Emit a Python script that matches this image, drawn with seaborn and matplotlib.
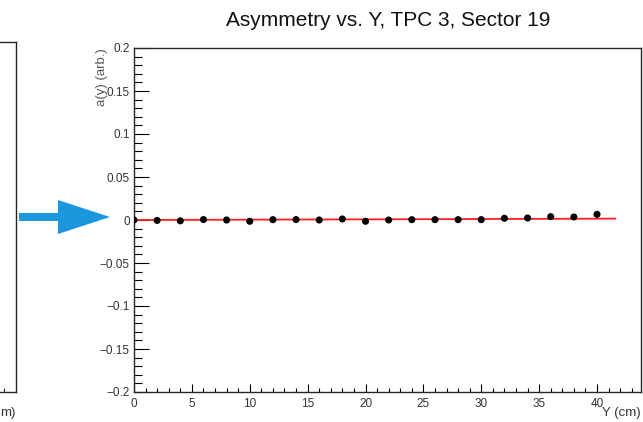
import matplotlib
matplotlib.use('Agg')
import matplotlib.pyplot as plt
import seaborn as sns
from matplotlib.patches import Polygon
from matplotlib.ticker import MultipleLocator

# Data
y_pos = [0, 2, 4, 6, 8, 10, 12, 14, 16, 18, 20,
         22, 24, 26, 28, 30, 32, 34, 36, 38, 40]
asym = [0.0, -0.0005, -0.001, 0.0005, 0.0, -0.0015, 0.0004, 0.0005, 0.0,
        0.0012, -0.0015, 0.0, 0.0004, 0.0004, 0.0004, 0.0004, 0.002,
        0.0023, 0.0039, 0.0035, 0.0066]
fit_x = [0.0, 41.6]
fit_y = [0.0, 0.0016]

y_ticks = [-0.2, -0.15, -0.1, -0.05, 0, 0.05, 0.1, 0.15, 0.2]
y_tick_labels = ['\u22120.2', '\u22120.15', '\u22120.1', '\u22120.05', '0',
                 '0.05', '0.1', '0.15', '0.2']

# Graphic style config
sns.set_style('ticks')
plt.rcParams['font.family'] = ['Liberation Sans', 'DejaVu Sans']

W, H = 643, 422
fig = plt.figure(figsize=(W / 100, H / 100), dpi=100)

# left neighbour pad (cut off at the figure edge)
ax0 = fig.add_axes([-0.3, 1 - 392 / H, 0.3 + 16 / W, (392 - 42) / H])
ax0.set_xlim(0, 1)
ax0.set_ylim(0, 1)
ax0.set_xticks([])
ax0.set_yticks([])
ax0.set_xticks([(0.3 + 4 / W) / (0.3 + 16 / W)], minor=True)
ax0.tick_params(axis='x', which='minor', direction='in', length=3,
                width=0.8, labelbottom=False)
for s in ax0.spines.values():
    s.set_linewidth(1.0)
fig.text(0.5 / W, 1 - 413 / H, 'm)', ha='left', va='center',
         fontsize=9.5, color='#333333')

# main pad
ax = fig.add_axes([134 / W, 1 - 392 / H, (641 - 134) / W, (392 - 48) / H])
sns.lineplot(x=fit_x, y=fit_y, color='#ff2020', lw=1.3, ax=ax, zorder=2)
sns.scatterplot(x=y_pos, y=asym, color='black', s=26, edgecolor='none',
                ax=ax, zorder=3)

ax.set_xlim(0, 43.8)
ax.set_ylim(-0.2, 0.2)
ax.set_yticks(y_ticks)
ax.set_yticklabels(y_tick_labels)
ax.xaxis.set_major_locator(MultipleLocator(5))
ax.xaxis.set_minor_locator(MultipleLocator(1))
ax.yaxis.set_minor_locator(MultipleLocator(0.01))
ax.tick_params(which='both', direction='in', top=False, right=False,
               colors='black', labelcolor='#333333', labelsize=8.5, width=0.8)
ax.tick_params(axis='y', which='major', length=10.5, pad=3)
ax.tick_params(axis='y', which='minor', length=5.5)
ax.tick_params(axis='x', which='major', length=6, pad=4)
ax.tick_params(axis='x', which='minor', length=3)
for s in ax.spines.values():
    s.set_linewidth(1.0)
    s.set_visible(True)

ax.set_xlabel('Y (cm)', loc='right', fontsize=9.5, color='#333333',
              labelpad=-2)
ax.set_ylabel('a(y) (arb.)', loc='top', fontsize=9.5, color='#555555',
              labelpad=-6)

fig.text(388 / W, 1 - 20 / H, 'Asymmetry vs. Y, TPC 3, Sector 19',
         ha='center', va='center', fontsize=15, color='#111111')

# blue arrow pointing at the zero line
arrow = Polygon([(19, 201), (58, 201), (58, 188), (110, 205), (58, 222),
                 (58, 209), (19, 209)], closed=True, transform=None,
                facecolor='#1c96dc', edgecolor='none')
fig.patches.append(arrow)

fig.savefig('out.png', dpi=100)
